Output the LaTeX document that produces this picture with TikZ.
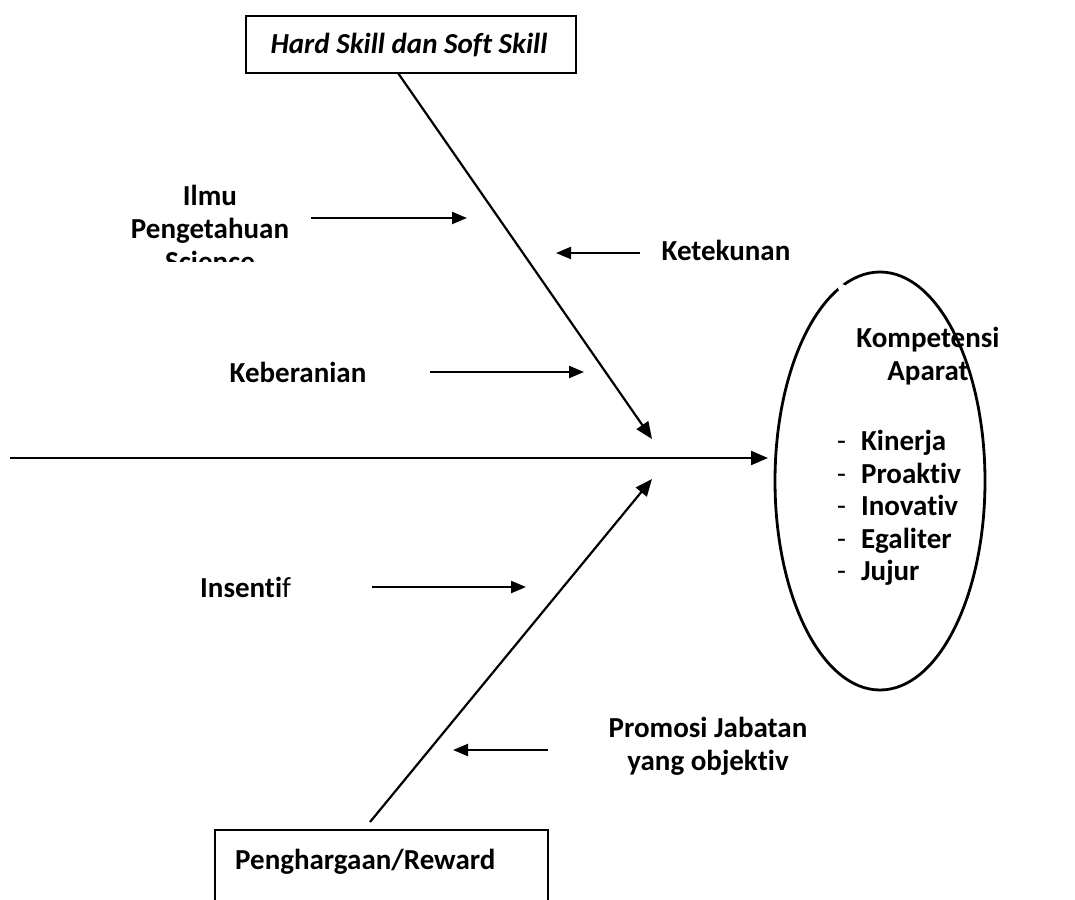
\documentclass[tikz,border=0pt]{standalone}
\usepackage{fontspec}
\setmainfont[Ligatures={NoCommon}]{Carlito}
\usetikzlibrary{arrows.meta,shapes.geometric}
\tikzset{
  x=1pt,y=-1pt,
  lbl/.style={font=\fontsize{29}{33}\selectfont\bfseries, align=center, inner sep=0pt},
  bone/.style={line width=2.2pt, -{Triangle[length=17pt,width=14pt]}},
  small/.style={line width=2.2pt, -{Triangle[length=15pt,width=12pt]}},
  boxed/.style={draw, line width=2.4pt, rectangle, inner sep=0pt}
}
\begin{document}
\begin{tikzpicture}
\useasboundingbox (0,0) rectangle (1075,899);
\clip (0,0) rectangle (1075,899);
% top box
\node[boxed, minimum width=330pt, minimum height=57pt] (top) at (411,44.5) {};
\node[lbl, font=\fontsize{29}{33}\selectfont\bfseries\itshape] (toptxt) at (409,45) {Hard Skill dan Soft Skill};
% bottom box
\node[boxed, minimum width=333pt, minimum height=120pt] (bot) at (381.5,890) {};
\node[lbl, anchor=west] (bottxt) at (235,862) {Penghargaan/Reward};
% ellipse
\node[draw, ellipse, line width=2.8pt, minimum width=210pt, minimum height=418pt, inner sep=0pt] (ell) at (880,481) {};
\fill[white] (842,288) circle (4pt);
% bones
\coordinate (tail) at (10,458);
\coordinate (upTip) at (652,439);
\coordinate (loTip) at (652,479);
\coordinate (upStart) at (398,73);
\coordinate (loStart) at (370,822);
\draw[bone] (tail) -- (768,458) coordinate (mainTip);
\draw[bone] (upStart) -- (upTip);
\draw[bone] (loStart) -- (loTip);
% labels
\begin{scope}
\clip (100,150) rectangle (420,261);
\node[lbl] (ilmu) at (210,228) {Ilmu\\Pengetahuan\\Science};
\end{scope}
\node[lbl] (ket) at (726,250) {Ketekunan};
\node[lbl] (keb) at (298,372) {Keberanian};
\node[lbl, anchor=west] (ins) at (200,587) {Insenti\mdseries f};
\node[lbl] (prom) at (708,746) {Promosi Jabatan\\yang objektiv};
\node[lbl] (komp) at (928,356) {Kompetensi\\Aparat};
\node[lbl, align=left, anchor=north west, font=\fontsize{29}{32.5}\selectfont\bfseries] (list) at (837,430)
  {{\mdseries -}\hspace{15pt}Kinerja\\{\mdseries -}\hspace{15pt}Proaktiv\\{\mdseries -}\hspace{15pt}Inovativ\\{\mdseries -}\hspace{15pt}Egaliter\\{\mdseries -}\hspace{15pt}Jujur};
% small arrows
\coordinate (a1s) at (311,218); \coordinate (a1e) at (467,218);
\coordinate (a2s) at (640,253); \coordinate (a2e) at (556,253);
\coordinate (a3s) at (430,372); \coordinate (a3e) at (584,372);
\coordinate (a4s) at (372,587); \coordinate (a4e) at (526,587);
\coordinate (a5s) at (548,750); \coordinate (a5e) at (453,750);
\draw[small] (a1s) -- (a1e);
\draw[small] (a2s) -- (a2e);
\draw[small] (a3s) -- (a3e);
\draw[small] (a4s) -- (a4e);
\draw[small] (a5s) -- (a5e);
\end{tikzpicture}
\end{document}
